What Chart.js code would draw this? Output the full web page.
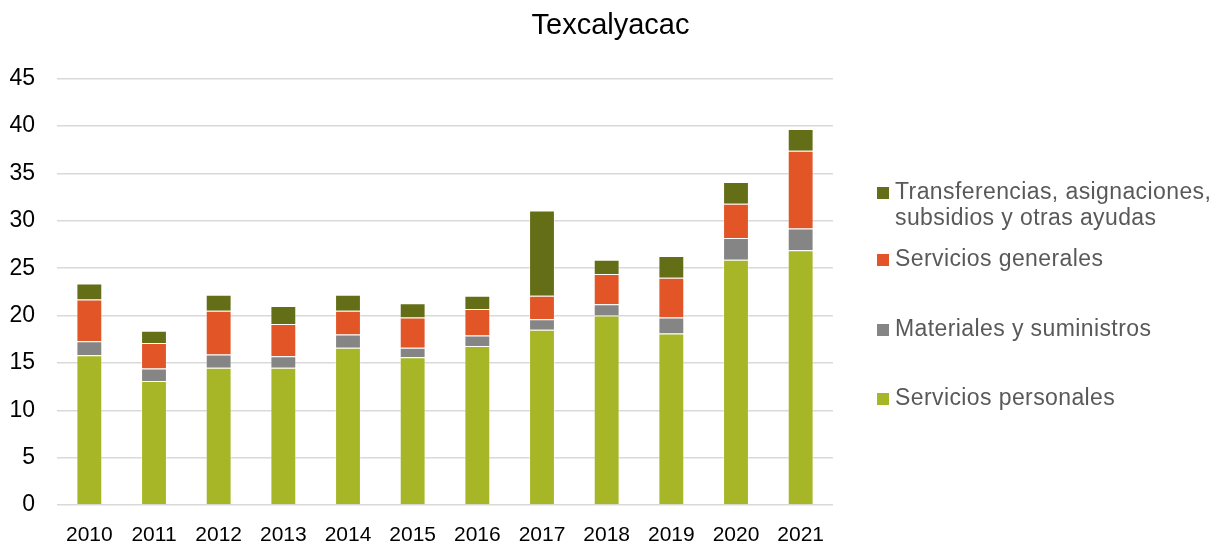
<!DOCTYPE html>
<html>
<head>
<meta charset="utf-8">
<script src="https://cdn.jsdelivr.net/npm/chart.js@4"></script>
<style>
    html, body { margin: 0; padding: 0; background: #fff; }
    #wrap { position: relative; width: 1221px; height: 547px; font-family: 'Liberation Sans', Arial, sans-serif; }
    #legend { position: absolute; left: 0; top: 0; width: 1221px; height: 547px; pointer-events: none; }
    .lg-item { position: absolute; left: 877px; width: 344px; display: flex; align-items: flex-start; color: #595959; font-size: 23px; line-height: 26px; letter-spacing: 0.4px; }
    .lg-box { width: 12px; height: 12px; margin-top: 9px; margin-right: 6px; flex: none; }
    .lg-text { flex: 1; }
</style>
</head>
<body>
<div id="wrap">
    <canvas id="chart" width="1221" height="547"></canvas>
    <div id="legend"></div>
</div>
<script>
// Datos - Texcalyacac
const years = ['2010', '2011', '2012', '2013', '2014', '2015', '2016', '2017', '2018', '2019', '2020', '2021'];
const serviciosPersonales = [15.8, 13.1, 14.5, 14.5, 16.6, 15.6, 16.8, 18.5, 20.0, 18.1, 25.9, 26.9];
const materialesSuministros = [1.5, 1.3, 1.4, 1.2, 1.4, 1.0, 1.1, 1.1, 1.2, 1.7, 2.3, 2.3];
const serviciosGenerales = [4.4, 2.7, 4.6, 3.4, 2.5, 3.2, 2.8, 2.5, 3.2, 4.2, 3.6, 8.2];
const transferencias = [1.7, 1.3, 1.7, 1.9, 1.7, 1.5, 1.4, 9.0, 1.5, 2.3, 2.3, 2.3];
const yTicks = [0, 5, 10, 15, 20, 25, 30, 35, 40, 45];

const FONT = "'Liberation Sans', Arial, sans-serif";

const series = [
    { label: 'Servicios personales', data: serviciosPersonales, color: '#a7b626' },
    { label: 'Materiales y suministros', data: materialesSuministros, color: '#858585' },
    { label: 'Servicios generales', data: serviciosGenerales, color: '#e15526' },
    { label: 'Transferencias, asignaciones, subsidios y otras ayudas', data: transferencias, color: '#646e17' }
];

// el título va centrado en todo el lienzo, no sólo sobre el área del gráfico
const centerTitle = {
    id: 'centerTitle',
    afterLayout(c) {
        const t = c.titleBlock;
        if (t) { t.left = 0; t.right = c.width; t.width = c.width; }
    }
};

const ctx = document.getElementById('chart').getContext('2d');
const chart = new Chart(ctx, {
    type: 'bar',
    data: {
        labels: years,
        datasets: series.map(s => ({
            label: s.label,
            data: s.data,
            backgroundColor: s.color,
            borderColor: 'rgba(255,255,255,0.35)',
            borderWidth: 1,
            categoryPercentage: 1,
            barPercentage: 0.4
        }))
    },
    options: {
        responsive: false,
        animation: false,
        layout: { padding: { left: 0, right: 388, top: 9, bottom: 0 } },
        plugins: {
            legend: { display: false },
            tooltip: { enabled: false },
            title: {
                display: true,
                text: 'Texcalyacac',
                color: '#000',
                font: { family: FONT, size: 29, weight: 'normal' },
                padding: { top: 0, bottom: 35 }
            }
        },
        scales: {
            x: {
                stacked: true,
                grid: { display: false },
                border: { display: false },
                ticks: { color: '#000', font: { family: FONT, size: 21 }, padding: 10, maxRotation: 0 },
                afterFit: s => { s.height = 42; }
            },
            y: {
                stacked: true,
                min: 0,
                max: 45,
                afterBuildTicks: s => { s.ticks = yTicks.map(v => ({ value: v })); },
                grid: { color: '#d9d9d9', lineWidth: 1.5, drawTicks: false },
                border: { display: false },
                ticks: { color: '#000', font: { family: FONT, size: 23 }, padding: 22 },
                afterFit: s => { s.width = 57; }
            }
        }
    },
    plugins: [centerTitle]
});

// Leyenda en HTML (orden invertido como en el original)
const legendTops = [178, 245, 315, 384];
const legendEl = document.getElementById('legend');
series.slice().reverse().forEach((s, i) => {
    const item = document.createElement('div');
    item.className = 'lg-item';
    item.style.top = legendTops[i] + 'px';
    item.innerHTML = `<span class="lg-box" style="background:${s.color}"></span><span class="lg-text">${s.label}</span>`;
    legendEl.appendChild(item);
});
</script>
</body>
</html>
